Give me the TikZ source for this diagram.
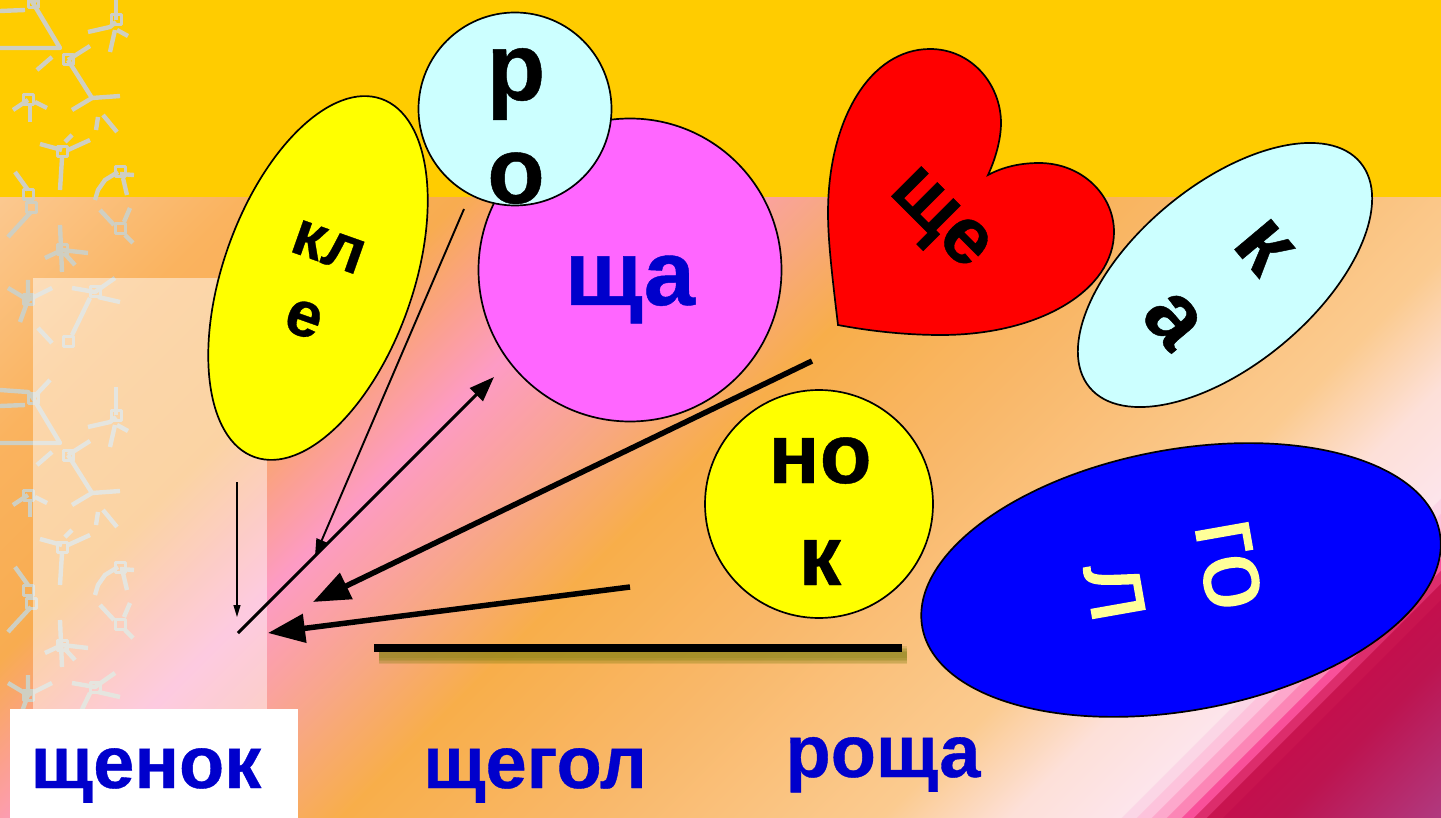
\documentclass[tikz,border=0pt]{standalone}
\usepackage{fontspec}
\setmainfont{Liberation Sans}[BoldFeatures={FakeBold=0.5}]
\newfontfamily\golfont{Liberation Sans}[FakeBold=1.6]
\usetikzlibrary{arrows.meta,shapes.geometric}

\definecolor{bandyellow}{HTML}{FFCC00}
\definecolor{wordblue}{HTML}{0000CC}
\definecolor{palecyan}{HTML}{CCFFFF}
\definecolor{rosefill}{HTML}{FF66FF}
\definecolor{sunyellow}{HTML}{FFFF00}
\definecolor{paleyellow}{HTML}{FFFF99}
\definecolor{heartred}{HTML}{FF0000}
\definecolor{deepblue}{HTML}{0000FF}
\definecolor{twiggrey}{HTML}{CFCFC2}
\definecolor{barshadow}{HTML}{807F10}

\tikzset{
    blob/.style={draw=black, line width=1.7pt, inner sep=0pt},
    oval/.style={blob, ellipse},
    disc/.style={blob, circle},
    lettering/.style={anchor=base, inner sep=0pt, font=\bfseries\fontsize{#1}{#1}\selectfont},
    golletter/.style={anchor=base, inner sep=0pt, font=\golfont\fontsize{100}{100}\selectfont, text=paleyellow, rotate=-80},
    word/.style={lettering=74, text=wordblue},
    twig/.style={draw=twiggrey, line width=4.4pt, line join=round},
}

\begin{document}
\begin{tikzpicture}[x=1pt,y=-1pt]
    \useasboundingbox (0,0) rectangle (1441,818);

    % lower part of the background, bands across the diagonal
    \begin{scope}
        \clip (0,197) rectangle (1441,818);
        \begin{scope}[transform canvas={rotate=-45}]
            \foreach \ua/\ub/\ca/\cb in {
                    150/200/FBC88F/FBC88F, 200/440/FBC88F/FAB35F, 440/660/FAB35F/F8AC50,
                    660/765/F8AC50/FBA08E, 765/860/FBA08E/FD9BC5, 860/1025/FD9BC5/F8A785,
                    1025/1158/F8A785/F8AE4A, 1158/1400/F8AE4A/F9B86A, 1400/1700/F9B86A/FBCB90,
                    1700/1826/FBCB90/FDE0D8, 1826/1940/FDE0D8/FDE5EC, 2040/2100/C30F4D/BD1450,
                    2100/2260/BD1450/B03A80} {
                \definecolor{ca}{HTML}{\ca}
                \definecolor{cb}{HTML}{\cb}
                \shade[left color=ca, right color=cb] ({\ua*0.7071},-2500) rectangle ({(\ub+1)*0.7071},2500);
            }
            % the stepped part near the corner
            \foreach \ua/\ub/\ca in {
                    1940/1955/FBD6E6, 1955/1970/FDC3DC, 1970/1985/FDA8CC, 1985/2000/FC86B6,
                    2000/2012/F9509A, 2012/2025/DC2D6C, 2025/2040/C8144F} {
                \definecolor{ca}{HTML}{\ca}
                \fill[ca] ({\ua*0.7071},-2500) rectangle ({(\ub+1)*0.7071},2500);
            }
        \end{scope}
    \end{scope}
    \fill[bandyellow] (0,0) rectangle (1441,197);

    % twigs, one tile repeated down the left edge
    \begin{scope}
        \clip (0,0) rectangle (135,818);
        \foreach \shifty in {-395,0,395} {
            \begin{scope}[yshift=-\shifty pt, twig]
                \draw (0,48) -- (60,48) -- (33,3) -- (28,-3) -- (0,-5);
                \draw (0,11) -- (25,10);
                \draw (33,3) -- (50,-15);
                \draw (52,57) -- (37,70);
                \draw (68,60) -- (90,46);
                \draw (68,60) -- (92,98) -- (72,110);
                \draw (92,98) -- (120,96);
                \draw (96,130) -- (98,117);
                \draw (103,115) -- (117,132);
                \draw (116,20) -- (116,-8);
                \draw (116,22) -- (110,27) -- (88,32);
                \draw (117,30) -- (128,36);
                \draw (115,30) -- (110,52);
                \draw (28,100) -- (13,110);
                \draw (30,105) -- (30,122);
                \draw (35,102) -- (47,108);
                \draw (62,150) -- (40,144);
                \draw (65,142) -- (72,135);
                \draw (68,150) -- (90,140);
                \draw (62,158) -- (60,190);
                \draw (28,190) -- (15,172);
                \draw (31,212) -- (8,237);
                \draw (118,172) -- (105,180) -- (98,190) -- (95,200);
                \draw (123,178) -- (127,195);
                \draw (120,174) -- (134,175);
                \draw (114,225) -- (100,210);
                \draw (124,222) -- (130,208);
                \draw (125,235) -- (133,243);
                \draw (60,225) -- (62,272);
                \draw (45,258) -- (62,250) -- (88,253);
                \draw (64,253) -- (75,265);
                \draw (28,280) -- (28,300) -- (20,322);
                \draw (8,288) -- (28,300) -- (52,288);
                \draw (72,288) -- (95,292) -- (115,278);
                \draw (98,297) -- (120,302);
                \draw (90,298) -- (72,335);
                \draw (38,328) -- (52,343);
                \foreach \sqx/\sqy in {33/3, 68/60, 116/20, 28/100, 62/152, 28/195, 31/208, 120/172,
                        120/229, 62/250, 28/300, 95/292, 68/342} {
                    \draw[line width=3pt] ({\sqx-5},{\sqy-5}) rectangle ({\sqx+5},{\sqy+5});
                }
            \end{scope}
        }
    \end{scope}

    % pale panel and white label box
    \fill[white, opacity=.48] (33,278) rectangle (267,818);
    \fill[white] (10,709) rectangle (298,818);

    % syllable shapes
    \node[oval, fill=sunyellow, minimum width=380pt, minimum height=190pt, rotate=70.5] (kleshape) at (318,278) {};
    \node[disc, fill=rosefill, minimum size=303pt] (shchashape) at (630,270) {};
    \node[disc, fill=palecyan, minimum size=193pt] (roshape) at (515,109) {};
    \path[blob, fill=heartred] (838,325) .. controls (832,275) and (828,240) .. (828,213)
        .. controls (828,120) and (870,49) .. (930,49)
        .. controls (972,49) and (1001,85) .. (1001,123)
        .. controls (1001,140) and (995,160) .. (988,175)
        .. controls (1003,167) and (1020,163) .. (1039,163)
        .. controls (1082,163) and (1114,195) .. (1114,232)
        .. controls (1114,290) and (1040,335) .. (941,335)
        .. controls (905,335) and (870,331) .. (838,325) -- cycle;
    \node[oval, fill=palecyan, minimum width=352pt, minimum height=180pt, rotate=39.7] (kashape) at (1225,275) {};
    \node[disc, fill=sunyellow, minimum size=228pt] (nokshape) at (819,504) {};
    \node[oval, fill=deepblue, minimum width=526pt, minimum height=261pt, rotate=10.4] (golshape) at (1181,580) {};

    % syllables
    \node[lettering=64, rotate=-19.5] (kl) at (322.7,263) {кл};
    \node[lettering=64, rotate=-19.5] (e) at (298,335) {е};
    \node[lettering=96] (r) at (516,100) {р};
    \node[lettering=94] (o) at (516,203) {о};
    \node[lettering=92, text=wordblue] (shcha) at (630,305) {ща};
    \node[lettering=80, rotate=-45] (shche) at (927,232) {ще};
    \node[lettering=90, rotate=-50] (k) at (1245,262) {к};
    \node[lettering=88, rotate=-50] (a) at (1155,335) {а};
    \node[lettering=85] (no) at (820,483) {но};
    \node[lettering=85] (kk) at (820,585) {к};
    \node[golletter] (go) at (1202.4,569.4) {го};
    \node[golletter] (l) at (1089,596.4) {л};

    % words
    \node[word] (shchenok) at (146,788) {щенок};
    \node[word] (shchegol) at (535,788) {щегол};
    \node[word] (roshcha) at (883,777) {роща};

    % arrow ends
    \coordinate (tipa) at (237,617);
    \coordinate (taila) at (237,482);
    \coordinate (tipb) at (315,556);
    \coordinate (tailb) at (464,209);
    \coordinate (tipc) at (494,377);
    \coordinate (tailc) at (238,633);
    \coordinate (tipd) at (313,602);
    \coordinate (taild) at (812,361);
    \coordinate (tipe) at (268,633);
    \coordinate (taile) at (630,587);
    \coordinate (barleft) at (374,648);
    \coordinate (barright) at (902,648);

    \draw[line width=1.2pt, -{Triangle[length=12pt,width=7pt]}] (taila) -- (tipa);
    \draw[line width=1.9pt, -{Triangle[length=17pt,width=11pt]}] (tailb) -- (tipb);
    \draw[line width=3pt, -{Triangle[length=25pt,width=18pt]}] (tailc) -- (tipc);
    \draw[line width=5.5pt, -{Triangle[length=37pt,width=28pt]}] (taild) -- (tipd);
    \draw[line width=5.5pt, -{Triangle[length=37pt,width=28pt]}] (taile) -- (tipe);

    % the thick bar and its soft shadow
    \foreach \w in {18,15,12,9,6} {
        \draw[line width=\w pt, barshadow, opacity=.2] ([shift={(5,7)}]barleft) -- ([shift={(5,7)}]barright);
    }
    \draw[line width=8pt] (barleft) -- (barright);
\end{tikzpicture}
\end{document}
